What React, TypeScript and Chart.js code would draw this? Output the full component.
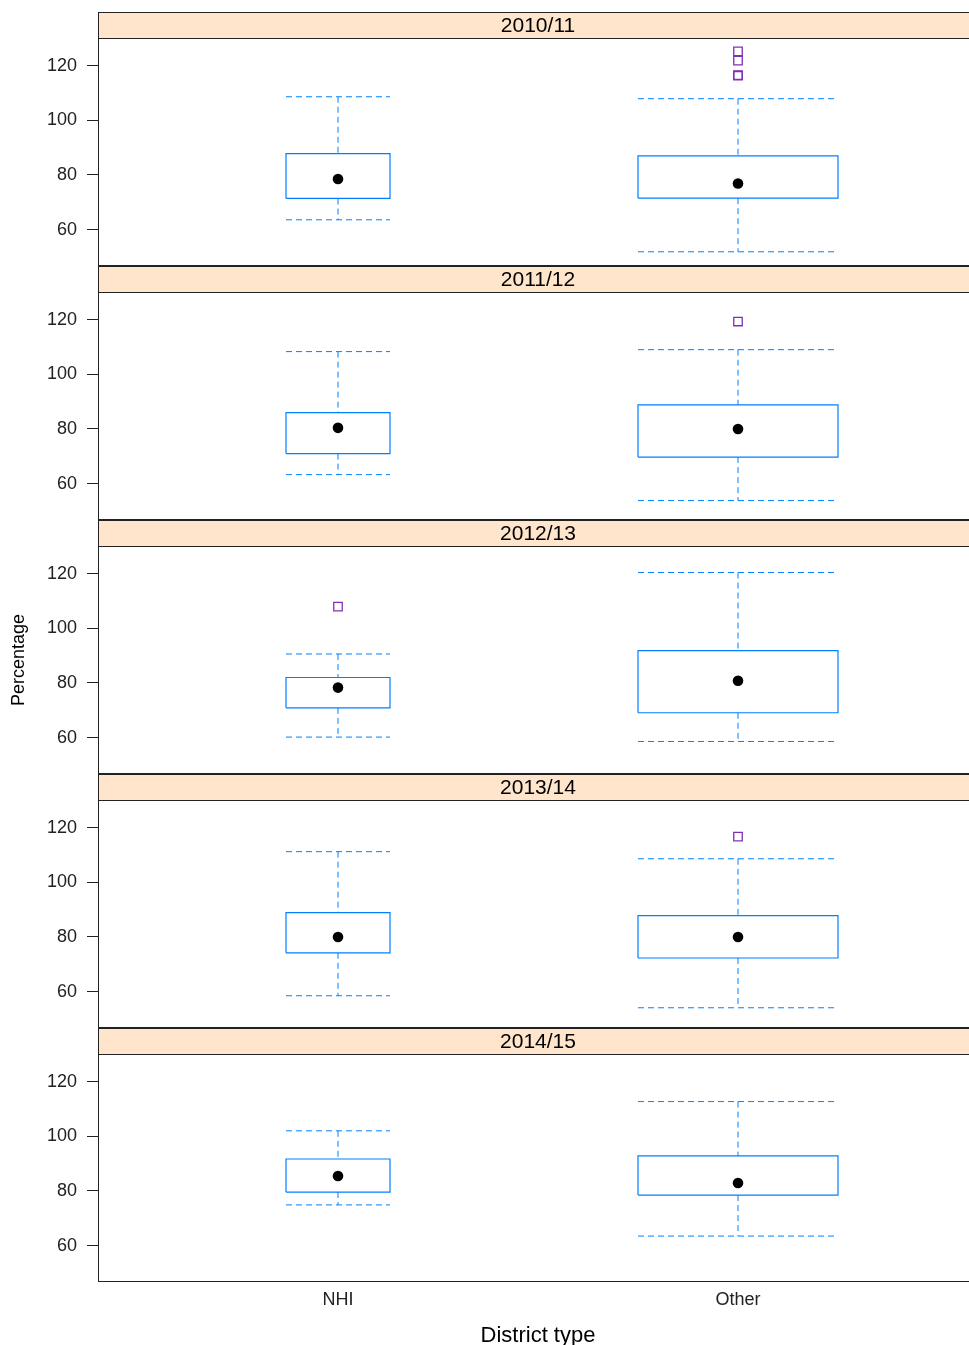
import React, { useEffect, useRef } from 'react';
import { Chart, registerables } from 'chart.js';

Chart.register(...registerables);

// ---------------- data ----------------
const PANEL_TITLES = ['2010/11', '2011/12', '2012/13', '2013/14', '2014/15'];
const CATEGORIES = ['NHI', 'Other'];
// per panel: [NHI, Other]
const LOWER_WHISKER = [[63.6, 51.9], [63.3, 53.8], [60.2, 58.6], [58.5, 54.1], [74.9, 63.5]];
const Q1 = [[71.4, 71.5], [71.0, 69.7], [70.9, 69.1], [74.2, 72.3], [79.6, 78.5]];
const MEDIAN = [[78.5, 76.9], [80.4, 80.0], [78.3, 80.8], [80.0, 80.0], [85.5, 82.9]];
const Q3 = [[87.8, 87.0], [86.0, 88.8], [82.0, 91.8], [88.9, 87.8], [91.7, 92.8]];
const UPPER_WHISKER = [[108.6, 107.9], [108.3, 109.0], [90.6, 120.4], [111.2, 108.6], [102.0, 112.7]];
const OUTLIERS: number[][][] = [
  [[], [125.2, 121.8, 116.5, 116.3]],
  [[], [119.3]],
  [[107.9], []],
  [[], [116.7]],
  [[], []],
];
const Y_TICKS = [60, 80, 100, 120];

// ---------------- style ----------------
const Y_MIN = 46.7;
const Y_MAX = 130.1;
const X_MIN = 0.4;
const X_MAX = 2.6;
const BOX_HALF_WIDTH = [0.13, 0.25];

const BLUE = '#0080ff';
const OUTLIER_COLOR = '#8030b8';
const STRIP_BG = '#ffe5cc';
const FRAME = '#222222';
const TEXT = '#222222';
const FONT = '"Liberation Sans", Arial, Helvetica, sans-serif';

const TOP = 12;
const STRIP_H = 26;
const PLOT_H = 228;
const PANEL_STEP = STRIP_H + PLOT_H;
const LEFT = 98;
const PLOT_RIGHT = 978;
const CANVAS_W = 990;
const X_AXIS_H = 63;

function panelPlugin(title: string) {
  return {
    id: 'panelStrip',
    beforeDraw(chart: any) {
      const { ctx, chartArea } = chart;
      const { left, right, top } = chartArea;
      ctx.save();
      ctx.fillStyle = STRIP_BG;
      ctx.fillRect(left, top - STRIP_H, right - left, STRIP_H);
      ctx.fillStyle = '#000';
      ctx.font = `21px ${FONT}`;
      ctx.textAlign = 'center';
      ctx.textBaseline = 'middle';
      ctx.fillText(title, (left + right) / 2, top - STRIP_H / 2 + 1);
      ctx.restore();
    },
    afterDraw(chart: any) {
      const { ctx, chartArea } = chart;
      const { left, right, top, bottom } = chartArea;
      ctx.save();
      ctx.strokeStyle = FRAME;
      ctx.lineWidth = 1;
      ctx.beginPath();
      ctx.moveTo(left, top - STRIP_H + 0.5);
      ctx.lineTo(right, top - STRIP_H + 0.5);
      ctx.moveTo(left, top + 0.5);
      ctx.lineTo(right, top + 0.5);
      ctx.moveTo(left, bottom - 0.5);
      ctx.lineTo(right, bottom - 0.5);
      ctx.moveTo(left + 0.5, top - STRIP_H);
      ctx.lineTo(left + 0.5, bottom);
      ctx.stroke();
      ctx.restore();
    },
  };
}

function buildDatasets(p: number) {
  const medians: any[] = [];
  const boxes: any[] = [];
  const whiskers: any[] = [];
  const outliers: any[] = [];
  CATEGORIES.forEach((_, k) => {
    const c = k + 1;
    const h = BOX_HALF_WIDTH[k];
    const lo = LOWER_WHISKER[p][k];
    const q1 = Q1[p][k];
    const med = MEDIAN[p][k];
    const q3 = Q3[p][k];
    const hi = UPPER_WHISKER[p][k];
    medians.push({ x: c, y: med });
    boxes.push({
      label: 'box' + k,
      data: [
        { x: c - h, y: q1 },
        { x: c + h, y: q1 },
        { x: c + h, y: q3 },
        { x: c - h, y: q3 },
        { x: c - h, y: q1 },
      ],
      showLine: true,
      borderColor: BLUE,
      borderWidth: 1.2,
      pointRadius: 0,
      fill: false,
      tension: 0,
    });
    whiskers.push({
      label: 'whisker' + k,
      data: [
        { x: c - h, y: hi },
        { x: c + h, y: hi },
        { x: c, y: null },
        { x: c, y: hi },
        { x: c, y: q3 },
        { x: c, y: null },
        { x: c, y: q1 },
        { x: c, y: lo },
        { x: c, y: null },
        { x: c - h, y: lo },
        { x: c + h, y: lo },
      ],
      showLine: true,
      spanGaps: false,
      borderColor: BLUE,
      borderWidth: 1,
      borderDash: [6, 4],
      pointRadius: 0,
      fill: false,
      tension: 0,
    });
    OUTLIERS[p][k].forEach((v) => outliers.push({ x: c, y: v }));
  });
  return [
    {
      label: 'median',
      data: medians,
      pointRadius: 5.3,
      pointBackgroundColor: '#000',
      pointBorderWidth: 0,
      showLine: false,
    },
    ...boxes,
    ...whiskers,
    {
      label: 'outliers',
      data: outliers,
      pointStyle: 'rect',
      pointRadius: 6,
      pointBackgroundColor: 'rgba(255,255,255,0)',
      pointBorderColor: OUTLIER_COLOR,
      pointBorderWidth: 1.3,
      showLine: false,
    },
  ];
}

export default function App() {
  const refs = useRef<(HTMLCanvasElement | null)[]>([]);

  useEffect(() => {
    const charts: Chart[] = [];
    PANEL_TITLES.forEach((title, p) => {
      const canvas = refs.current[p];
      if (!canvas) return;
      const isLast = p === PANEL_TITLES.length - 1;
      const chart = new Chart(canvas, {
        type: 'scatter',
        data: { datasets: buildDatasets(p) as any },
        options: {
          animation: false,
          responsive: false,
          maintainAspectRatio: false,
          devicePixelRatio: 1,
          layout: {
            autoPadding: false,
            padding: { top: STRIP_H, right: CANVAS_W - PLOT_RIGHT, left: 0, bottom: 0 },
          },
          plugins: {
            legend: { display: false },
            tooltip: { enabled: false },
            title: { display: false },
          },
          scales: {
            x: {
              type: 'linear',
              min: X_MIN,
              max: X_MAX,
              display: isLast,
              afterBuildTicks: (s: any) => {
                s.ticks = CATEGORIES.map((_, i) => ({ value: i + 1 }));
              },
              afterFit: (s: any) => {
                s.height = isLast ? X_AXIS_H : 0;
                s.paddingLeft = 0;
                s.paddingRight = 0;
                s.paddingTop = 0;
                s.paddingBottom = 0;
              },
              ticks: {
                callback: (v: any) => CATEGORIES[Math.round(Number(v)) - 1] ?? '',
                font: { family: FONT, size: 18 },
                color: TEXT,
                padding: 7,
                maxRotation: 0,
                autoSkip: false,
              },
              grid: { display: false, drawTicks: false },
              border: { display: false },
              title: {
                display: isLast,
                text: 'District type',
                font: { family: FONT, size: 22, lineHeight: 0.85 },
                color: '#000',
                padding: { top: 0, bottom: 0 },
              },
            },
            y: {
              type: 'linear',
              min: Y_MIN,
              max: Y_MAX,
              afterBuildTicks: (s: any) => {
                s.ticks = Y_TICKS.map((v) => ({ value: v }));
              },
              afterFit: (s: any) => {
                s.width = LEFT;
                s.paddingTop = 0;
                s.paddingBottom = 0;
                s.paddingLeft = 0;
                s.paddingRight = 0;
              },
              ticks: {
                font: { family: FONT, size: 18 },
                color: TEXT,
                padding: 10,
              },
              grid: {
                drawOnChartArea: false,
                drawTicks: true,
                tickLength: 11,
                color: FRAME,
                lineWidth: 1,
              },
              border: { display: false },
              title: {
                display: p === 2,
                text: 'Percentage',
                font: { family: FONT, size: 18 },
                color: '#000',
                padding: { top: 8, bottom: 0 },
              },
            },
          },
        },
        plugins: [panelPlugin(title)],
      });
      charts.push(chart);
    });
    return () => charts.forEach((c) => c.destroy());
  }, []);

  return (
    <div
      style={{
        position: 'absolute',
        left: 0,
        top: 0,
        width: 969,
        height: 1345,
        overflow: 'hidden',
        background: '#fff',
      }}
    >
      {PANEL_TITLES.map((t, p) => {
        const h = PANEL_STEP + (p === PANEL_TITLES.length - 1 ? X_AXIS_H : 0);
        return (
          <canvas
            key={t}
            ref={(el) => {
              refs.current[p] = el;
            }}
            width={CANVAS_W}
            height={h}
            style={{
              position: 'absolute',
              left: 0,
              top: TOP + p * PANEL_STEP,
              width: CANVAS_W,
              height: h,
            }}
          />
        );
      })}
    </div>
  );
}
